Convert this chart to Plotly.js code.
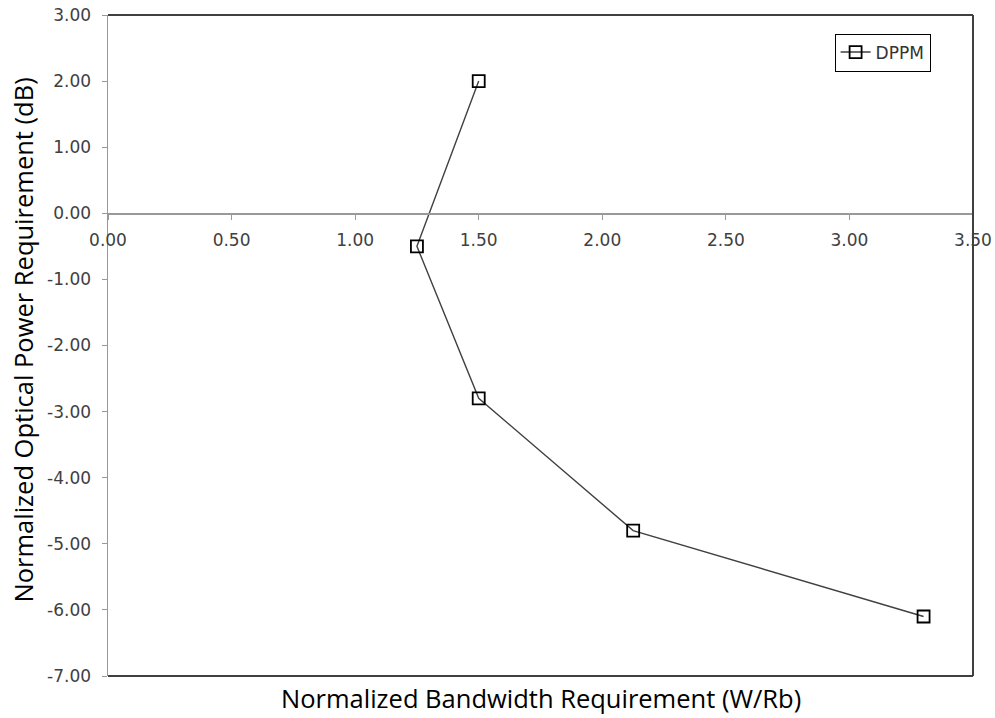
<!DOCTYPE html>
<html>
<head>
<meta charset="utf-8">
<script src="https://cdn.plot.ly/plotly-3.0.1.min.js"></script>
<style>html,body{margin:0;padding:0;background:#fff;}#chart{width:995px;height:718px;}</style>
</head>
<body>
<div id="chart"></div>
<script>
const seriesName = "DPPM";
const bandwidth = [1.50, 1.25, 1.50, 2.125, 3.30];
const power = [2.00, -0.50, -2.80, -4.80, -6.10];
const xTickVals = [0, 0.5, 1, 1.5, 2, 2.5, 3, 3.5];
const yTickVals = [3, 2, 1, 0, -1, -2, -3, -4, -5, -6, -7];
const xTitle = "Normalized Bandwidth Requirement (W/Rb)";
const yTitle = "Normalized Optical Power Requirement (dB)";

const titleFont = "Open Sans, Liberation Sans, sans-serif";
const tickFont = "'DejaVu Sans', Verdana, sans-serif";
const fmt = v => v.toFixed(2);
const trace = {
  x: bandwidth, y: power, name: seriesName, type: "scatter", mode: "lines+markers",
  line: {color: "#404040", width: 1.4},
  marker: {symbol: "square-open", size: 12, color: "#000", line: {width: 1.8, color: "#000"}}
};
const layout = {
  width: 995, height: 718,
  margin: {l: 108, r: 21.5, t: 14.5, b: 42},
  paper_bgcolor: "#fff", plot_bgcolor: "#fff",
  font: {family: tickFont, color: "#404040"},
  showlegend: true,
  legend: {x: 0.84, y: 0.972, xanchor: "left", yanchor: "top", bordercolor: "#000", borderwidth: 1,
           font: {size: 17, color: "#333", family: tickFont}, bgcolor: "#fff"},
  xaxis: {range: [0, 3.5], tickvals: xTickVals, ticktext: xTickVals.map(fmt), anchor: "free", position: 0.7,
          showline: true, linecolor: "#999", linewidth: 1.5, ticks: "outside", ticklen: 5, tickcolor: "#999",
          ticklabelstandoff: 6,
          showgrid: false, zeroline: false, tickfont: {size: 17, color: "#404040", family: tickFont}, fixedrange: true},
  yaxis: {range: [-7, 3], tickvals: yTickVals, ticktext: yTickVals.map(fmt),
          showline: true, linecolor: "#999", linewidth: 1.5, ticks: "outside", ticklen: 5, tickcolor: "#999",
          ticklabelstandoff: 7,
          showgrid: false, zeroline: false, tickfont: {size: 17, color: "#404040", family: tickFont}},
  shapes: [
    {type: "line", xref: "paper", yref: "paper", x0: 0, x1: 1, y0: 1, y1: 1, line: {color: "#404040", width: 2}},
    {type: "line", xref: "paper", yref: "paper", x0: 1, x1: 1, y0: 0, y1: 1, line: {color: "#404040", width: 2}},
    {type: "line", xref: "paper", yref: "paper", x0: 0, x1: 1, y0: 0, y1: 0, line: {color: "#404040", width: 2}}
  ],
  annotations: [
    {text: xTitle, xref: "paper", yref: "paper", x: 0.5, y: 0, yshift: -3, xanchor: "center", yanchor: "top",
     showarrow: false, font: {size: 25.5, color: "#000", family: titleFont}},
    {text: yTitle, xref: "paper", yref: "paper", x: 0, y: 0.5, xshift: -86, yshift: 5, xanchor: "center", yanchor: "middle",
     textangle: -90, showarrow: false, font: {size: 25.5, color: "#000", family: titleFont}}
  ]
};
Plotly.newPlot("chart", [trace], layout, {displayModeBar: false, staticPlot: true});
</script>
</body>
</html>
